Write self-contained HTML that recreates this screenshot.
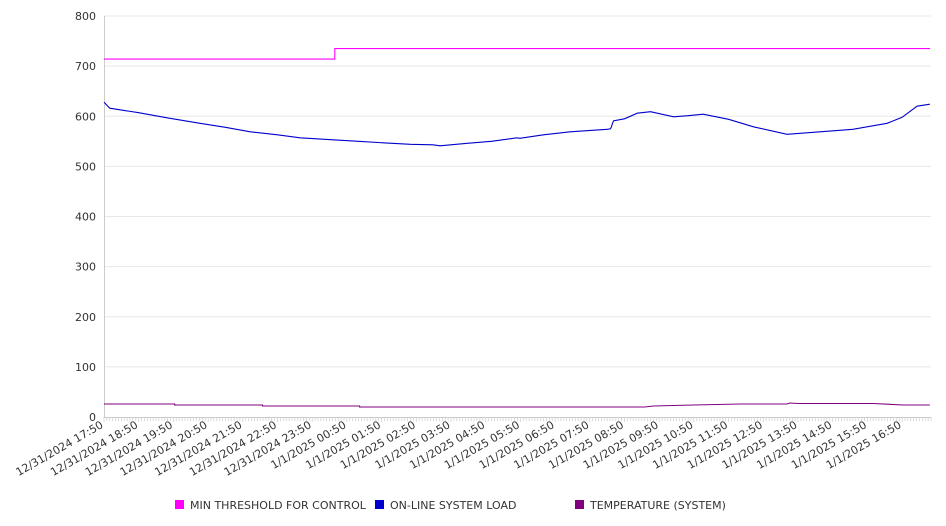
<!DOCTYPE html>
<html><head><meta charset="utf-8"><style>
body{margin:0;background:#fff;}
svg{display:block;font-family:"DejaVu Sans","Liberation Sans",sans-serif;}
</style></head><body>
<svg id="chart" width="946" height="526" viewBox="0 0 946 526" xmlns="http://www.w3.org/2000/svg">
<g id="grid"></g>
<g id="yaxis"></g>
<g id="xaxis"></g>
<g id="series"></g>
<g id="legend"></g>
</svg>
<script>
const yTicks = [0,100,200,300,400,500,600,700,800];
const xLabels = ["12/31/2024 17:50","12/31/2024 18:50","12/31/2024 19:50","12/31/2024 20:50","12/31/2024 21:50","12/31/2024 22:50","12/31/2024 23:50","1/1/2025 00:50","1/1/2025 01:50","1/1/2025 02:50","1/1/2025 03:50","1/1/2025 04:50","1/1/2025 05:50","1/1/2025 06:50","1/1/2025 07:50","1/1/2025 08:50","1/1/2025 09:50","1/1/2025 10:50","1/1/2025 11:50","1/1/2025 12:50","1/1/2025 13:50","1/1/2025 14:50","1/1/2025 15:50","1/1/2025 16:50"];
// minutes since 12/31/2024 17:50
const loadTimes = [0,10,60,109,166,210,253,300,339,396,440,482,530,569,581,628,670,714,719,760,806,870,876,881,900,922,945,985,1010,1036,1080,1123,1181,1238,1295,1354,1380,1406,1428];
const loadValues = [628,616,607,597,586,578,569,563,557,553,550,547,544,543,541,546,550,557,556,563,569,574,575,591,595,606,609,599,601,604,594,579,564,569,574,586,598,620,624];
const thrTimes = [0,399,399,1428];
const thrValues = [714,714,735,735];
const tempTimes = [0,122,122,274,274,442,442,935,950,1019,1100,1181,1186,1200,1215,1330,1382,1428];
const tempValues = [26,26,24,24,22,22,20,20,22,24,26,26,28,27,27,27,24,24];
const series = [
 {name:"MIN THRESHOLD FOR CONTROL", color:"#ff00ff", t:thrTimes, v:thrValues, key:"min-threshold"},
 {name:"ON-LINE SYSTEM LOAD", color:"#0000cc", t:loadTimes, v:loadValues, key:"online-system-load"},
 {name:"TEMPERATURE (SYSTEM)", color:"#800080", t:tempTimes, v:tempValues, key:"temperature-system"}
];
const X0=104, X1=931, Y0=417, Y1=16, PX_PER_MIN=34.7/60;
const xs = t => X0 + t*PX_PER_MIN;
const ys = v => Y0 - (v/800)*(Y0-Y1);
const NS="http://www.w3.org/2000/svg";
function mk(tag, attrs, parent){const e=document.createElementNS(NS,tag);for(const k in attrs)e.setAttribute(k,attrs[k]);parent.appendChild(e);return e;}
const grid=document.getElementById('grid'), yaxis=document.getElementById('yaxis'), xaxis=document.getElementById('xaxis'), sg=document.getElementById('series'), lg=document.getElementById('legend');
yTicks.forEach(v=>{
 if(v>0){const l=mk('line',{x1:X0,x2:X1,y1:ys(v),y2:ys(v),stroke:'#e8e8e8','stroke-width':1},grid);
 
 }
 const t=mk('text',{x:96,y:ys(v)+4,'text-anchor':'end','font-size':11,fill:'#333'},yaxis);
 t.textContent=v;
 
 
});
const ax=mk('line',{x1:X0+0.5,x2:X0+0.5,y1:Y1,y2:Y0,stroke:'#ccc'},yaxis);


const bx=mk('line',{x1:X0,x2:X1,y1:Y0+0.5,y2:Y0+0.5,stroke:'#ccc'},xaxis);


for(let m=0; xs(m)<=X1+0.5; m+=5){
 const tk=mk('line',{x1:xs(m),x2:xs(m),y1:Y0,y2:Y0+(m%60===0?5:4),stroke:'#ccc','stroke-width':0.7},xaxis);
 
 
}
xLabels.forEach((s,i)=>{
 const x=xs(i*60), y=Y0+10;
 const t=mk('text',{x:x,y:y,'text-anchor':'end','font-size':11,fill:'#333',transform:`rotate(-30 ${x} ${y})`},xaxis);
 t.textContent=s;
 
 
});
series.forEach(s=>{
 const d=s.t.map((t,i)=>(i?'L':'M')+xs(t).toFixed(1)+' '+ys(s.v[i]).toFixed(1)).join(' ');
 const p=mk('path',{d:d,fill:'none',stroke:s.color,'stroke-width':1.1},sg);
 
 
});
const lx=[175,375,575];
series.forEach((s,i)=>{
 const g=mk('g',{},lg);
 
 
 mk('rect',{x:lx[i],y:500,width:9,height:9,fill:s.color},g);
 const t=mk('text',{x:lx[i]+15,y:509,'font-size':11,fill:'#333'},g);
 t.textContent=s.name;
});
</script>
</body></html>
